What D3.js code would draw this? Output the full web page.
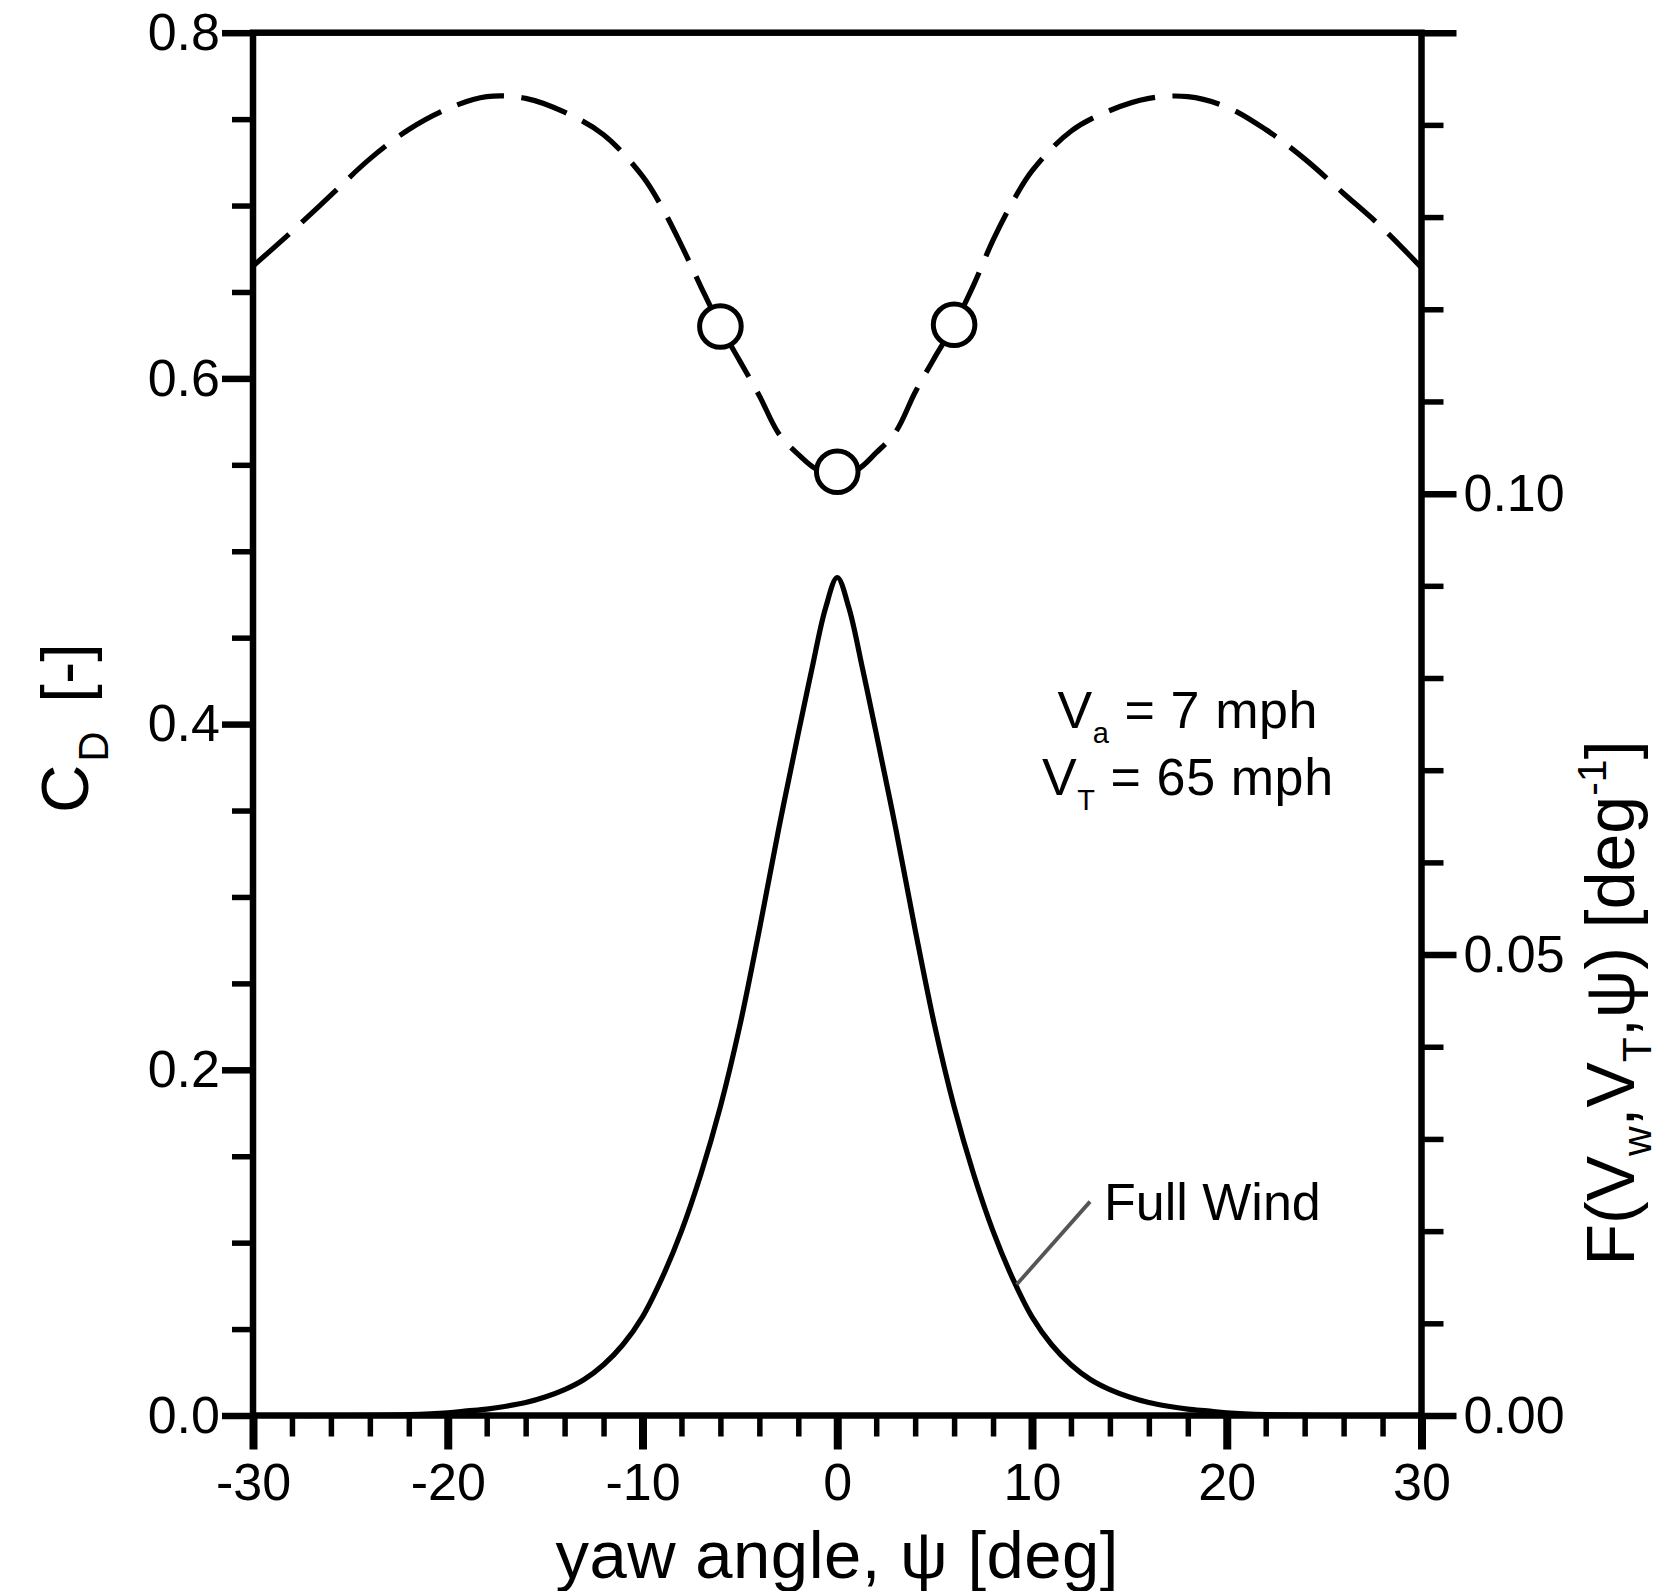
<!DOCTYPE html>
<html>
<head>
<meta charset="utf-8">
<script src="https://cdn.jsdelivr.net/npm/d3@7"></script>
<style>
  html, body { margin: 0; padding: 0; background: #fff; }
  svg { display: block; }
  text { font-family: 'Liberation Sans', Arial, Helvetica, sans-serif; fill: #000; }
</style>
</head>
<body>
<div id="chart"></div>
<script>
// ═══════════════════════════════════════
// drag coefficient vs yaw angle + wind distribution
// ═══════════════════════════════════════

// dashed curve: C_D (left axis)
const CD_PSI = [-30, -28, -26, -24, -22, -20, -18, -16, -14, -12, -10, -9, -8, -7, -6, -5, -4, -3, -2, -1, 0,
                1, 2, 3, 4, 5, 6, 7, 8, 9, 10, 12, 14, 16, 18, 20, 22, 24, 26, 28, 30];
const CD_VAL = [0.665, 0.685, 0.706, 0.727, 0.744, 0.756, 0.763, 0.762, 0.754, 0.741, 0.717, 0.699, 0.677, 0.653, 0.630, 0.610, 0.590, 0.568, 0.556, 0.547, 0.545,
                0.547, 0.557, 0.569, 0.592, 0.612, 0.631, 0.654, 0.680, 0.702, 0.720, 0.743, 0.755, 0.762, 0.763, 0.757, 0.744, 0.727, 0.707, 0.687, 0.664];

// measured points (open circles)
const MARK_PSI = [-6, 0, 6];
const MARK_CD  = [0.630, 0.546, 0.631];

// solid curve: F(Vw, VT, psi) (right axis), "Full Wind"
const F_PSI = [-30, -25, -22, -20, -19, -18, -17, -16, -15, -14, -13, -12, -11, -10, -9, -8, -7, -6, -5, -4, -3, -2, -1.3, -0.6, 0,
               0.6, 1.3, 2, 3, 4, 5, 6, 7, 8, 9, 10, 11, 12, 13, 14, 15, 16, 17, 18, 19, 20, 22, 25, 30];
const F_VAL = [0, 0, 0.0001, 0.0003, 0.0005, 0.0007, 0.0010, 0.0014, 0.0020, 0.0028, 0.0039, 0.0055, 0.0077, 0.0107, 0.0149, 0.0200, 0.0262, 0.0335, 0.0423, 0.0527, 0.0637, 0.0740, 0.0810, 0.0876, 0.0909,
               0.0876, 0.0810, 0.0740, 0.0637, 0.0527, 0.0423, 0.0335, 0.0262, 0.0200, 0.0149, 0.0107, 0.0077, 0.0055, 0.0039, 0.0028, 0.0020, 0.0014, 0.0010, 0.0007, 0.0005, 0.0003, 0.0001, 0, 0];

// ticks
const X_TICKS  = [-30, -20, -10, 0, 10, 20, 30];
const YL_TICKS = [0, 0.2, 0.4, 0.6, 0.8];
const YR_TICKS = [0, 0.05, 0.10, 0.15];
const YR_LABELS = ['0.00', '0.05', '0.10', ''];

const W = 1678, H = 1591;

const svg = d3.select('#chart').append('svg')
  .attr('width', W).attr('height', H)
  .attr('viewBox', `0 0 ${W} ${H}`);

const x  = d3.scaleLinear().domain([-30, 30]).range([253, 1421.5]);
const yL = d3.scaleLinear().domain([0, 0.8]).range([1415.5, 32.7]);
const yR = d3.scaleLinear().domain([0, 0.15]).range([1415.5, 32.7]);

const [x0, x1] = x.range();
const [yB, yT] = yL.range();

// curves
const cdLine = d3.line()
  .x((d, i) => x(CD_PSI[i]))
  .y(d => yL(d))
  .curve(d3.curveCatmullRom.alpha(0.5));

const dashed = svg.append('path')
  .attr('d', cdLine(CD_VAL))
  .attr('fill', 'none')
  .attr('stroke', '#000')
  .attr('stroke-width', 5.2);

// fit the dash pattern so it starts and ends on a dash
const len = dashed.node().getTotalLength();
const DASH = 48;
const n = Math.round((len + 17) / (DASH + 17));
const gap = (len - n * DASH) / (n - 1);
dashed.attr('stroke-dasharray', `${DASH},${gap.toFixed(2)}`);

const fLine = d3.line()
  .x((d, i) => x(F_PSI[i]))
  .y(d => yR(d))
  .curve(d3.curveCatmullRom.alpha(0.5));

svg.append('path')
  .attr('d', fLine(F_VAL))
  .attr('fill', 'none')
  .attr('stroke', '#000')
  .attr('stroke-width', 5.2)
  .attr('stroke-linejoin', 'round');

svg.append('g').selectAll('circle')
  .data(MARK_CD)
  .join('circle')
  .attr('cx', (d, i) => x(MARK_PSI[i]))
  .attr('cy', d => yL(d))
  .attr('r', 20.8)
  .attr('fill', '#fff')
  .attr('stroke', '#000')
  .attr('stroke-width', 5);

// axes
function styleAxis(g, width, size) {
  g.select('.domain').remove();
  g.attr('font-family', null).attr('font-size', null);
  g.selectAll('line').attr('stroke', '#000').attr('stroke-width', width);
  g.selectAll('text').attr('font-size', size).attr('fill', '#000');
}

// minor ticks
svg.append('g')
  .attr('transform', `translate(0,${yB})`)
  .call(d3.axisBottom(x).tickValues(d3.range(-28, 30, 2).filter(v => v % 10 !== 0)).tickSize(21).tickFormat(''))
  .call(g => styleAxis(g, 5.5, 0));
svg.append('g')
  .attr('transform', `translate(${x0},0)`)
  .call(d3.axisLeft(yL).tickValues(d3.range(0.05, 0.8, 0.05).filter((v, i) => (i + 1) % 4 !== 0)).tickSize(21).tickFormat(''))
  .call(g => styleAxis(g, 5.5, 0));
svg.append('g')
  .attr('transform', `translate(${x1},0)`)
  .call(d3.axisRight(yR).tickValues(d3.range(0.01, 0.15, 0.01).filter((v, i) => (i + 1) % 5 !== 0)).tickSize(22).tickFormat(''))
  .call(g => styleAxis(g, 5.5, 0));

// major ticks + labels
svg.append('g')
  .attr('transform', `translate(0,${yB})`)
  .call(d3.axisBottom(x).tickValues(X_TICKS).tickSize(34).tickPadding(14).tickFormat(d => String(d)))
  .call(g => styleAxis(g, 8, 52));
svg.append('g')
  .attr('transform', `translate(${x0},0)`)
  .call(d3.axisLeft(yL).tickValues(YL_TICKS).tickSize(31).tickPadding(2).tickFormat(d3.format('.1f')))
  .call(g => styleAxis(g, 6.5, 52));
svg.append('g')
  .attr('transform', `translate(${x1},0)`)
  .call(d3.axisRight(yR).tickValues(YR_TICKS).tickSize(35).tickPadding(7).tickFormat((d, i) => YR_LABELS[i]))
  .call(g => styleAxis(g, 6.5, 52));

// frame
svg.append('rect')
  .attr('x', x0).attr('y', yT)
  .attr('width', x1 - x0).attr('height', yB - yT)
  .attr('fill', 'none')
  .attr('stroke', '#000')
  .attr('stroke-width', 6.5);

// axis titles
svg.append('text')
  .attr('x', (x0 + x1) / 2).attr('y', 1578)
  .attr('text-anchor', 'middle')
  .attr('font-size', 67)
  .attr('letter-spacing', 0.5)
  .text('yaw angle, ψ [deg]');

const lt = svg.append('text')
  .attr('transform', `translate(88,${(yB + yT) / 2 + 4}) rotate(-90)`)
  .attr('text-anchor', 'middle')
  .attr('font-size', 67);
lt.append('tspan').text('C');
lt.append('tspan').attr('font-size', 42).attr('dy', 20).attr('dx', 3).text('D');
lt.append('tspan').attr('dy', -20).attr('dx', 10).text(' [-]');

const rt = svg.append('text')
  .attr('transform', 'translate(1634,1003) rotate(-90)')
  .attr('text-anchor', 'middle')
  .attr('font-size', 68);
rt.append('tspan').text('F(V');
rt.append('tspan').attr('font-size', 41).attr('dy', 17).text('w');
rt.append('tspan').attr('dy', -17).text(',V');
rt.append('tspan').attr('font-size', 41).attr('dy', 17).text('T');
rt.append('tspan').attr('dy', -17).text(',ψ) [deg');
rt.append('tspan').attr('font-size', 41).attr('dy', -28).text('-1');
rt.append('tspan').attr('dy', 28).text(']');

// annotations
const ann = [['a', ' = 7 mph', 0.398], ['T', ' = 65 mph', 0.359]];
ann.forEach(([sub, rest, v]) => {
  const t = svg.append('text')
    .attr('x', x(18)).attr('y', yL(v))
    .attr('text-anchor', 'middle')
    .attr('font-size', 52)
    .attr('letter-spacing', 0.6);
  t.append('tspan').text('V');
  t.append('tspan').attr('font-size', 29).attr('dy', 15).text(sub);
  t.append('tspan').attr('dy', -15).text(rest);
});

// "Full Wind" leader
svg.append('line')
  .attr('x1', x(12.98)).attr('y1', yR(0.0232))
  .attr('x2', x(9.21)).attr('y2', yR(0.0142))
  .attr('stroke', '#555')
  .attr('stroke-width', 3.8);

svg.append('text')
  .attr('x', x(13.7)).attr('y', yR(0.0212))
  .attr('font-size', 52)
  .text('Full Wind');
</script>
</body>
</html>
